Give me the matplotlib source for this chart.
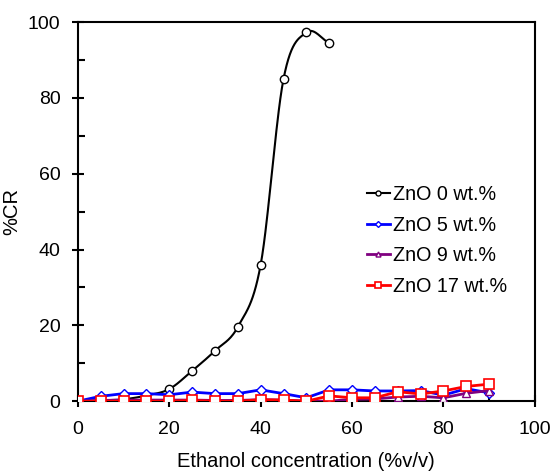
import numpy as np
import matplotlib

matplotlib.use("Agg")
import matplotlib.pyplot as plt
from matplotlib.ticker import MultipleLocator

plt.rcParams["font.family"] = ["Liberation Sans", "DejaVu Sans"]

x_zno0 = [0, 5, 10, 15, 20, 25, 30, 35, 40, 45, 50, 55]
cr_zno0 = [0, 0.2, 0.5, 1.5, 3.2, 8, 13.3, 19.6, 36, 85, 97.3, 94.5]

x_all = [0, 5, 10, 15, 20, 25, 30, 35, 40, 45, 50, 55, 60, 65, 70, 75, 80, 85, 90]
cr_zno5 = [0, 1.3, 2, 2, 1.7, 2.4, 2, 2, 3, 2, 0.9, 3, 3, 2.7, 2.7, 2.8, 1.6, 3.3, 2.2]
cr_zno9 = [0, 0.2, 0.3, 0.3, 0.3, 0.3, 0.2, 0.2, 0.4, 0.3, 0, 0, 0.5, 0.6, 1.1, 1.3, 0.9, 2.1, 2.8]
cr_zno17 = [0, 0, 0, 0, 0, 0.2, 0, 0, 0.4, 0.3, 0, 1.4, 0.9, 0.9, 2.5, 1.9, 2.7, 3.9, 4.5]


def smooth(x, y, n=30):
    # Catmull-Rom path through the measured points, for drawing the line only
    x = np.asarray(x, float)
    y = np.asarray(y, float)
    px = np.concatenate([[2 * x[0] - x[1]], x, [2 * x[-1] - x[-2]]])
    py = np.concatenate([[2 * y[0] - y[1]], y, [2 * y[-1] - y[-2]]])
    t = np.linspace(0, 1, n)
    xs, ys = [], []
    for i in range(1, len(px) - 2):
        for p, out in ((px, xs), (py, ys)):
            p0, p1, p2, p3 = p[i - 1], p[i], p[i + 1], p[i + 2]
            out.extend(0.5 * (2 * p1 + (-p0 + p2) * t
                              + (2 * p0 - 5 * p1 + 4 * p2 - p3) * t ** 2
                              + (-p0 + 3 * p1 - 3 * p2 + p3) * t ** 3))
    return np.array(xs), np.array(ys)


fig = plt.figure(figsize=(5.52, 4.72), dpi=100)
ax = fig.add_axes([0.141, 0.150, 0.828, 0.803])

sx, sy = smooth(x_zno0, cr_zno0)
ax.plot(sx, sy, color="black", lw=1.5, zorder=3)
ax.plot(x_zno0, cr_zno0, ls="none", marker="o", ms=6, mfc="white", mec="black",
        mew=1.0, zorder=4)
ax.plot([], [], color="black", lw=1.5, marker="o", ms=6, mfc="white", mec="black",
        label="ZnO 0 wt.%")

ax.plot(x_all, cr_zno5, color="#0000ff", lw=2, marker="D", ms=5, mfc="white",
        mec="#0000ff", mew=1.0, label="ZnO 5 wt.%", zorder=5)
ax.plot(x_all, cr_zno9, color="#800080", lw=2, marker="^", ms=6, mfc="white",
        mec="#800080", mew=1.0, label="ZnO 9 wt.%", zorder=5)
ax.plot(x_all, cr_zno17, color="#ff0000", lw=2, marker="s", ms=7, mfc="white",
        mec="#ff0000", mew=1.2, label="ZnO 17 wt.%", zorder=6)

ax.set_xlim(0, 100)
ax.set_ylim(0, 100)
ax.xaxis.set_major_locator(MultipleLocator(20))
ax.xaxis.set_minor_locator(MultipleLocator(10))
ax.yaxis.set_major_locator(MultipleLocator(20))
ax.yaxis.set_minor_locator(MultipleLocator(10))
ax.tick_params(which="major", direction="inout", length=9, width=1.5, labelsize=14)
ax.tick_params(axis="x", which="major", pad=10)
ax.tick_params(axis="y", which="major", pad=8)
ax.tick_params(which="minor", direction="in", length=5, width=1.5)
for s in ax.spines.values():
    s.set_linewidth(1.5)

ax.set_xlabel("Ethanol concentration (%v/v)", fontsize=14.5, labelpad=10)
ax.set_ylabel("%CR", fontsize=14.5, labelpad=5)

ax.legend(loc="upper left", bbox_to_anchor=(0.615, 0.592), frameon=False, fontsize=14.2,
          handlelength=1.18, handletextpad=0.15, labelspacing=0.6, markerscale=0.6,
          borderaxespad=0)

fig.savefig("out.png", dpi=100)
